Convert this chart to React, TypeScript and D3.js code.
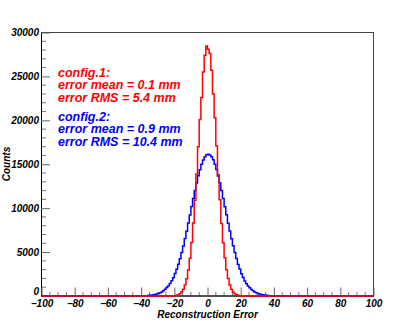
import React, { Component } from "react";
import * as d3 from "d3";

// histogram contents, 1 unit bins; first bin lower edge given separately
const redFirstBin = -23;
const redCounts = [
  5, 10, 21, 42, 80, 150, 270, 470, 780, 1260, 1950, 2950, 4300, 6100, 8300,
  10900, 13900, 17000, 20100, 22600, 25500, 27400, 28450,
  28100, 27600, 25700, 23000, 20300, 17100, 13800, 10950, 8250, 6050, 4350,
  2980, 1980, 1250, 770, 460, 265, 148, 82, 40, 20, 10, 5,
];

const blueFirstBin = -44;
const blueCounts = [
  3, 5, 7, 10, 15, 21, 30, 41, 56, 74, 102, 133, 178, 228, 288, 372, 468, 605,
  755, 955, 1140, 1410, 1730, 2090, 2550, 3040, 3620, 4240, 4960, 5700, 6540,
  7380, 8310, 9220, 10180, 11090, 12020, 12870, 13680, 14380, 15010, 15480,
  15860, 16070,
  16150, 16060, 15840, 15500, 14990, 14400, 13660, 12890, 12000, 11110, 10160,
  9240, 8290, 7400, 6520, 5720, 4940, 4260, 3600, 3060, 2530, 2110, 1710, 1400,
  1140, 950, 750, 600, 465, 372, 288, 226, 172, 137, 98, 76, 54, 41, 29, 20,
  14, 10, 7, 5, 3,
];

const xTicks = [-100, -80, -60, -40, -20, 0, 20, 40, 60, 80, 100];
const yTicks = [0, 5000, 10000, 15000, 20000, 25000, 30000];

const redLabels = ["config.1:", "error mean = 0.1 mm", "error RMS = 5.4 mm"];
const blueLabels = ["config.2:", "error mean = 0.9 mm", "error RMS = 10.4 mm"];

const W = 415;
const H = 329;
const FONT = "'Liberation Sans', Arial, Helvetica, sans-serif";

class App extends Component {
  el = null;

  createSVG() {
    const root = d3.select(this.el);
    root.selectAll("*").remove();
    return root
      .append("svg")
      .attr("width", W)
      .attr("height", H)
      .style("position", "absolute")
      .style("left", "0px")
      .style("top", "0px")
      .style("background", "white");
  }

  histPoints(first, counts) {
    const pts = [[-100, 0]];
    for (let b = -100; b < 100; b++) {
      const i = b - first;
      const v = i >= 0 && i < counts.length ? counts[i] : 0;
      pts.push([b, v], [b + 1, v]);
    }
    pts.push([100, 0]);
    return pts;
  }

  drawChart(svg) {
    const x = d3.scaleLinear().domain([-100, 100]).range([41.5, 373.5]);
    const y = d3.scaleLinear().domain([0, 30000]).range([296, 32.5]);

    svg
      .append("rect")
      .attr("x", 41.5)
      .attr("y", 32.5)
      .attr("width", 332)
      .attr("height", 263.5)
      .attr("fill", "none")
      .attr("stroke", "#444");

    // minor ticks
    svg
      .append("g")
      .selectAll("line")
      .data(d3.range(0, 30001, 1000).filter((d) => d % 5000 !== 0))
      .join("line")
      .attr("x1", 41.5)
      .attr("x2", 46)
      .attr("y1", (d) => y(d))
      .attr("y2", (d) => y(d))
      .attr("stroke", "#777");
    svg
      .append("g")
      .selectAll("line")
      .data(d3.range(-100, 101, 5).filter((d) => d % 20 !== 0))
      .join("line")
      .attr("x1", (d) => x(d))
      .attr("x2", (d) => x(d))
      .attr("y1", 296)
      .attr("y2", 292)
      .attr("stroke", "#777");

    const yAxis = svg
      .append("g")
      .attr("transform", "translate(41,0)")
      .call(
        d3.axisLeft(y).tickValues(yTicks).tickSizeInner(-9).tickSizeOuter(0)
          .tickPadding(2).tickFormat(d3.format("d"))
      );
    const xAxis = svg
      .append("g")
      .attr("transform", "translate(0,295.5)")
      .call(
        d3.axisBottom(x).tickValues(xTicks).tickSizeInner(-8).tickSizeOuter(0)
          .tickPadding(4).tickFormat(d3.format("d"))
      );
    [yAxis, xAxis].forEach((g) => {
      g.select(".domain").attr("stroke", "#000");
      g.selectAll(".tick line").attr("stroke", "#666");
      g.selectAll(".tick text")
        .attr("fill", "#000")
        .style("font-family", FONT)
        .style("font-size", "10px")
        .style("font-weight", "bold")
        .style("font-style", "italic");
    });
    // lift the zero label so it clears the -100 below it
    yAxis
      .selectAll(".tick text")
      .filter((d) => d === 0)
      .attr("dy", "-0.15em");

    const line = d3
      .line()
      .x((d) => x(d[0]))
      .y((d) => y(d[1]));

    svg
      .append("path")
      .attr("d", line(this.histPoints(blueFirstBin, blueCounts)))
      .attr("fill", "none")
      .attr("stroke", "#0000ff")
      .attr("stroke-width", 1.5);
    svg
      .append("path")
      .attr("d", line(this.histPoints(redFirstBin, redCounts)))
      .attr("fill", "none")
      .attr("stroke", "#ff0000")
      .attr("stroke-width", 1.5);

    const label = (sel) =>
      sel
        .style("font-family", FONT)
        .style("font-weight", "bold")
        .style("font-style", "italic");

    svg
      .append("text")
      .attr("x", 207.5)
      .attr("y", 318)
      .attr("text-anchor", "middle")
      .style("font-size", "10px")
      .text("Reconstruction Error")
      .call(label);
    svg
      .append("text")
      .attr("transform", "translate(10,164) rotate(-90)")
      .attr("text-anchor", "middle")
      .style("font-size", "10px")
      .text("Counts")
      .call(label);

    svg
      .append("g")
      .selectAll("text")
      .data(redLabels)
      .join("text")
      .attr("x", 58)
      .attr("y", (d, i) => 76.5 + i * 12.6)
      .attr("fill", "#ff0000")
      .style("font-size", "12.5px")
      .text((d) => d)
      .call(label);
    svg
      .append("g")
      .selectAll("text")
      .data(blueLabels)
      .join("text")
      .attr("x", 58)
      .attr("y", (d, i) => 120.5 + i * 12.6)
      .attr("fill", "#0000ff")
      .style("font-size", "12.5px")
      .text((d) => d)
      .call(label);
  }

  componentDidMount() {
    const svg = this.createSVG();
    this.drawChart(svg);
  }

  render() {
    return <div ref={(el) => (this.el = el)} />;
  }
}

export default App;
